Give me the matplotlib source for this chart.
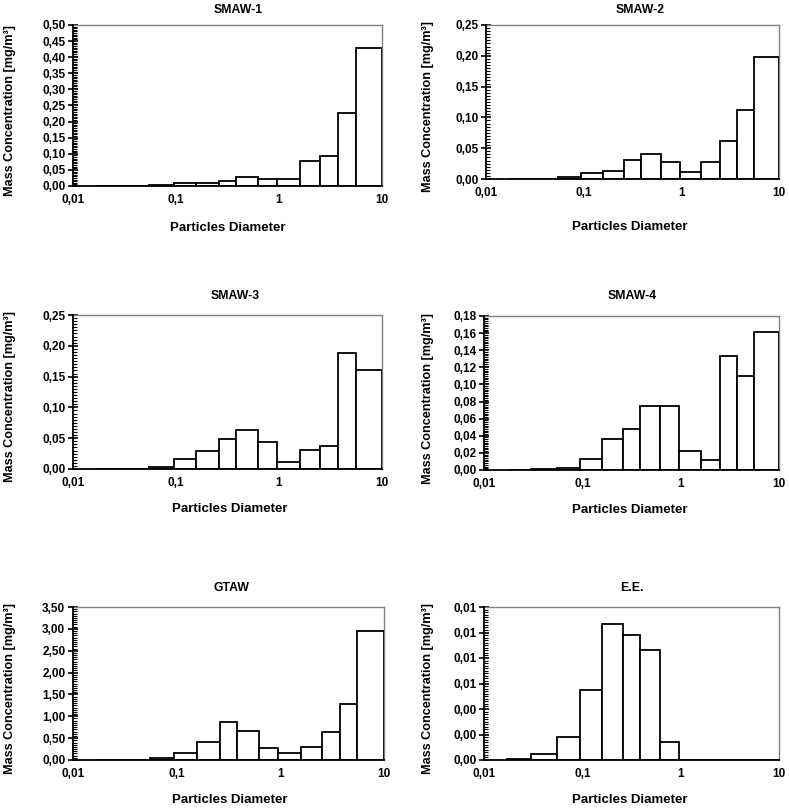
import numpy as np
import matplotlib
matplotlib.use("Agg")
import matplotlib.pyplot as plt
from matplotlib.ticker import FixedLocator, AutoMinorLocator, FuncFormatter, NullLocator

plt.rcParams['font.family'] = ['Liberation Sans', 'DejaVu Sans']
plt.rcParams['font.weight'] = 'bold'

# Bin edges (particle diameter, µm)
edges = [0.017, 0.03, 0.055, 0.095, 0.157, 0.26, 0.385, 0.62, 0.96, 1.6, 2.5, 3.75, 5.55, 10.0]

titles = ["SMAW-1", "SMAW-2", "SMAW-3", "SMAW-4", "GTAW", "E.E."]

smaw1 = [0, 0, 0.004, 0.008, 0.008, 0.016, 0.028, 0.023, 0.023, 0.077, 0.094, 0.226, 0.428]
smaw2 = [0, 0, 0.003, 0.009, 0.0135, 0.031, 0.041, 0.027, 0.011, 0.027, 0.062, 0.1125, 0.1975]
smaw3 = [0, 0, 0.004, 0.017, 0.029, 0.049, 0.063, 0.044, 0.011, 0.031, 0.037, 0.189, 0.161]
smaw4 = [0, 0.001, 0.0027, 0.0128, 0.036, 0.048, 0.0746, 0.0746, 0.0218, 0.0113, 0.1337, 0.1093, 0.1617]
gtaw = [0, 0, 0.04, 0.15, 0.42, 0.87, 0.67, 0.27, 0.15, 0.30, 0.64, 1.27, 2.95]
ee = [0.0001, 0.0005, 0.0018, 0.0055, 0.0107, 0.0098, 0.0086, 0.0014, 0, 0, 0, 0, 0]

series = [smaw1, smaw2, smaw3, smaw4, gtaw, ee]

y_max = [0.50, 0.25, 0.25, 0.18, 3.50, 0.012]
y_step = [0.05, 0.05, 0.05, 0.02, 0.50, 0.002]

x_ticks = [0.01, 0.1, 1, 10]
x_ticklabels = ["0,01", "0,1", "1", "10"]

xlabel = "Particles Diameter"
ylabel = "Mass Concentration [mg/m³]"

W, H = 789, 808
fig = plt.figure(figsize=(W / 100, H / 100), dpi=100)

# axes boxes in pixels: (left, right, top, bottom)
boxes = [(73, 382, 25, 186), (486, 779, 25, 179),
         (73, 382, 315, 469), (484, 779, 316, 470),
         (73, 384, 607, 760), (484, 779, 607, 760)]
title_pos = [(238, 10), (640, 10), (235, 296), (632, 296), (232, 588), (632, 588)]
xlab_pos = [(228, 228), (630, 227), (230, 509), (630, 510), (230, 800), (630, 800)]
ylab_x = [10, 428, 10, 428, 10, 428]

edges_arr = np.array(edges)
for i in range(6):
    l, r, t, b = boxes[i]
    ax = fig.add_axes([l / W, 1 - b / H, (r - l) / W, (b - t) / H])
    ax.bar(edges_arr[:-1], series[i], width=np.diff(edges_arr), align='edge',
           facecolor='white', edgecolor='black', linewidth=1.3, zorder=3)
    ax.set_xscale('log')
    ax.set_xlim(0.01, 10)
    ax.set_ylim(0, y_max[i])
    ax.xaxis.set_major_locator(FixedLocator(x_ticks))
    ax.xaxis.set_minor_locator(NullLocator())
    ax.set_xticklabels(x_ticklabels)
    yt = np.arange(0, y_max[i] + y_step[i] / 2, y_step[i])
    ax.yaxis.set_major_locator(FixedLocator(yt))
    ax.yaxis.set_minor_locator(AutoMinorLocator(10))
    ax.yaxis.set_major_formatter(FuncFormatter(lambda v, p: f"{v:.2f}".replace('.', ',')))
    ax.tick_params(axis='y', which='major', direction='inout', length=7, width=1.2,
                   labelsize=8.5, pad=2)
    ax.tick_params(axis='y', which='minor', direction='in', length=3, width=0.8)
    ax.tick_params(axis='x', which='major', direction='out', length=0, labelsize=8.5, pad=6)
    for lab in ax.get_xticklabels() + ax.get_yticklabels():
        lab.set_fontweight('bold')
    for s in ['left', 'bottom']:
        ax.spines[s].set_color('black')
        ax.spines[s].set_linewidth(1.3)
    for s in ['top', 'right']:
        ax.spines[s].set_color('#808080')
        ax.spines[s].set_linewidth(1.0)
    ax.spines['left'].set_zorder(4)
    ax.spines['bottom'].set_zorder(4)

    tx, ty = title_pos[i]
    fig.text(tx / W, 1 - ty / H, titles[i], ha='center', va='center',
             fontsize=8.8, fontweight='bold')
    xx, xy = xlab_pos[i]
    fig.text(xx / W, 1 - xy / H, xlabel, ha='center', va='center',
             fontsize=9.5, fontweight='bold')
    fig.text(ylab_x[i] / W, 1 - ((t + b) / 2 + 5) / H, ylabel, ha='center', va='center',
             rotation=90, fontsize=9.1, fontweight='bold')

fig.savefig("out.png", dpi=100)
